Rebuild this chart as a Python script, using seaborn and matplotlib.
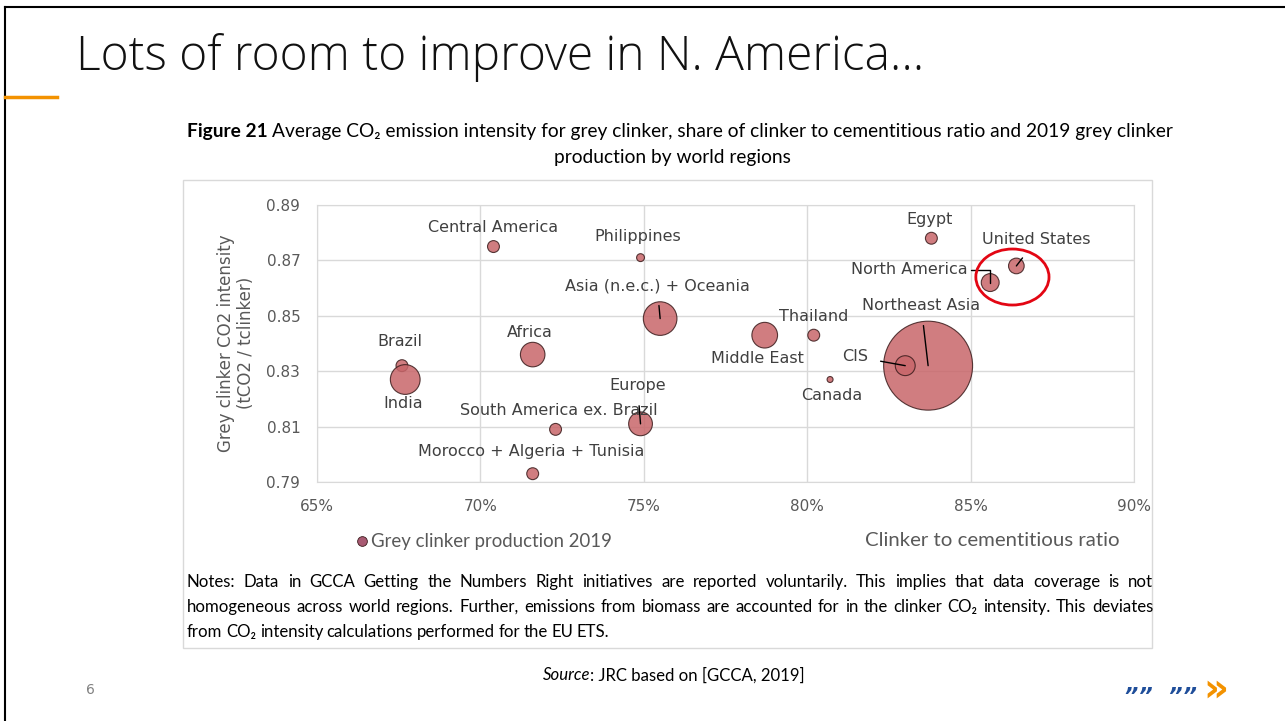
import pandas as pd
import seaborn as sns
import matplotlib.pyplot as plt
from matplotlib.patches import Ellipse, Rectangle
from matplotlib.lines import Line2D
from matplotlib.ticker import FuncFormatter

# data
regions = ["Central America", "Philippines", "Asia (n.e.c.) + Oceania", "Brazil", "India",
           "Africa", "South America ex. Brazil", "Morocco + Algeria + Tunisia", "Europe",
           "Middle East", "Thailand", "Canada", "Egypt", "North America", "United States",
           "Northeast Asia", "CIS"]
clinker_ratio = [70.4, 74.9, 75.5, 67.6, 67.7, 71.6, 72.3, 71.6, 74.9,
                 78.7, 80.2, 80.7, 83.8, 85.6, 86.4, 83.7, 83.0]
co2_intensity = [0.875, 0.871, 0.849, 0.832, 0.827, 0.836, 0.809, 0.793, 0.811,
                 0.843, 0.843, 0.827, 0.878, 0.862, 0.868, 0.832, 0.832]
production_2019 = [7.5, 3.3, 60, 7.5, 47, 32, 7.5, 7.5, 30,
                   35, 7.5, 1.9, 7.5, 17, 13, 420, 21]

# label offsets in pixels (dx, dy), leader line kind
label_pos = {
    "Central America": (0, 19, None), "Philippines": (-3, 21, None),
    "Asia (n.e.c.) + Oceania": (-3, 33, "line"), "Brazil": (-2, 24, None),
    "India": (-2, -24, None), "Africa": (-3, 22, None),
    "South America ex. Brazil": (3, 19, None), "Morocco + Algeria + Tunisia": (-2, 22, None),
    "Europe": (-3, 38, "line"), "Middle East": (-7, -23, None),
    "Thailand": (0, 19, None), "Canada": (2, -16, None), "Egypt": (-2, 19, None),
    "North America": (-81, 13, "angle"), "United States": (20, 26, "line"),
    "Northeast Asia": (-7, 60, "line"), "CIS": (-50, 9, "line"),
}

df = pd.DataFrame({"region": regions, "ratio": clinker_ratio,
                   "co2": co2_intensity, "prod": production_2019})

W, H = 1285, 721
fig = plt.figure(figsize=(W / 100, H / 100), dpi=100)
fig.patch.set_facecolor("white")
renderer = fig.canvas.get_renderer()


def fx(px):
    return px / W


def fy(py):
    return 1 - py / H


def width_px(t):
    return t.get_window_extent(renderer=renderer).width


def fit(t, target):
    # scale the font so the text spans the target width in pixels
    t.set_fontsize(t.get_fontsize() * target / width_px(t))
    return t


narrow = ["Lato", "DejaVu Sans"]
grey = "#595959"

# slide frame + orange accent
fig.add_artist(Line2D([fx(5), fx(5)], [fy(7), fy(725)], color="black", lw=1.5))
fig.add_artist(Line2D([fx(5), fx(1290)], [fy(7), fy(7)], color="black", lw=1.5))
fig.add_artist(Line2D([fx(5), fx(57)], [fy(97), fy(97)], color="#F39200", lw=2.5))

# chart box
fig.add_artist(Rectangle((fx(183), fy(648)), fx(1152) - fx(183), fy(180) - fy(648),
                         fill=False, edgecolor="#d9d9d9", lw=1))

ax = fig.add_axes([fx(317), fy(482), fx(1134) - fx(317), fy(205) - fy(482)])
sns.scatterplot(data=df, x="ratio", y="co2", size="prod", sizes=(0, 4100),
                size_norm=(0, max(production_2019)), legend=False, color="#C8666A",
                edgecolor="#3b1c1c", linewidth=0.8, alpha=0.85, ax=ax, zorder=3)

ax.set_xlim(65, 90)
ax.set_ylim(0.79, 0.89)
ax.set_xticks([65, 70, 75, 80, 85, 90])
ax.set_yticks([0.79, 0.81, 0.83, 0.85, 0.87, 0.89])
ax.xaxis.set_major_formatter(FuncFormatter(lambda v, p: f"{v:.0f}%"))
ax.yaxis.set_major_formatter(FuncFormatter(lambda v, p: f"{v:.2f}"))
ax.grid(True, color="#d9d9d9", lw=1)
ax.set_axisbelow(True)
for s in ax.spines.values():
    s.set_color("#d9d9d9")
ax.tick_params(length=0, labelsize=11, labelcolor=grey, pad=12)
ax.set_xlabel("")
ax.set_ylabel("")

for r, x, y in zip(regions, clinker_ratio, co2_intensity):
    dx, dy, kind = label_pos[r]
    kw = dict(xy=(x, y), xytext=(dx * 0.72, dy * 0.72), textcoords="offset points",
              ha="center", va="center", fontsize=11.5, color="#404040", zorder=5)
    if kind == "line":
        kw["arrowprops"] = dict(arrowstyle="-", color="black", lw=1, shrinkA=7, shrinkB=0)
    elif kind == "angle":
        kw["arrowprops"] = dict(arrowstyle="-", color="black", lw=1, shrinkA=0, shrinkB=0,
                                connectionstyle="angle,angleA=0,angleB=90,rad=0",
                                relpos=(1.03, 0.5))
    ax.annotate(r, **kw)

# red circle around North America / US
ax.add_patch(Ellipse((86.28, 0.8640), 73 / 163 * 5, 56 / 27.7 * 0.01,
                     fill=False, edgecolor="#E30613", lw=2, zorder=6, clip_on=False))

fig.text(fx(236), fy(343), "Grey clinker CO2 intensity\n(tCO2 / tclinker)", rotation=90,
         ha="center", va="center", fontsize=12, color=grey, linespacing=1.1)

# legend + axis title
fig.add_artist(Line2D([fx(362)], [fy(541)], marker="o", markersize=7, color="#A85A72",
                      markeredgecolor="#3b1c1c", markeredgewidth=0.6, lw=0))
fit(fig.text(fx(371), fy(541), "Grey clinker production 2019", ha="left", va="center",
             fontsize=13, color=grey, family=narrow), 240)
fit(fig.text(fx(1120), fy(540), "Clinker to cementitious ratio", ha="right", va="center",
             fontsize=13, color=grey, family=narrow), 255)

# slide title
fit(fig.text(fx(76), fy(57), "Lots of room to improve in N. America\u2026", ha="left",
             va="center", fontsize=33, color="#111111", family=["Open Sans", "DejaVu Sans"],
             fontweight="light"), 850)

# figure caption
t1 = fig.text(fx(187), fy(132), "Figure 21", ha="left", va="center", fontsize=12,
              fontweight="bold", family=narrow, color="black")
t2 = fig.text(0, fy(132),
              "Average CO₂ emission intensity for grey clinker, share of clinker to cementitious ratio and 2019 grey clinker",
              ha="left", va="center", fontsize=12, family=narrow, color="black")
fit(t2, 1158 - 187 - width_px(t1) - 4)
t1.set_fontsize(t2.get_fontsize())
t2.set_x(fx(187 + width_px(t1) + 4))
fig.text(fx(672), fy(157), "production by world regions", ha="center", va="center",
         fontsize=t2.get_fontsize(), family=narrow, color="black")

# justified notes
notes = [
    "Notes: Data in GCCA Getting the Numbers Right initiatives are reported voluntarily. This implies that data coverage is not",
    "homogeneous across world regions. Further, emissions from biomass are accounted for in the clinker CO₂ intensity. This deviates",
    "from CO₂ intensity calculations performed for the EU ETS.",
]
left, right = 187, 1153
probe = fig.text(0, 0, notes[1], fontsize=12, family=narrow)
note_fs = 12 * (right - left - 25) / width_px(probe)
probe.remove()
for i, line in enumerate(notes):
    y = fy(582 + 25 * i)
    words = line.split(" ")
    texts = [fig.text(0, y, w, ha="left", va="center", fontsize=note_fs, family=narrow,
                      color="black") for w in words]
    widths = [width_px(t) for t in texts]
    if i < len(notes) - 1:
        gap = (right - left - sum(widths)) / (len(words) - 1)
    else:
        gap = note_fs * 0.3
    x = left
    for t, w in zip(texts, widths):
        t.set_x(fx(x))
        x += w + gap

# source line
s1 = fig.text(fx(543), fy(675), "Source", ha="left", va="center", fontsize=note_fs,
              style="italic", family=narrow, color="black")
fig.text(fx(543 + width_px(s1)), fy(675), ": JRC based on [GCCA, 2019]", ha="left",
         va="center", fontsize=note_fs, family=narrow, color="black")

# page number and logo
fig.text(fx(90), fy(690), "6", ha="center", va="center", fontsize=10, color="#808080")
fig.text(fx(1160), fy(697), "\u201d\u201d  \u201d\u201d", ha="center", va="center", fontsize=16,
         color="#1F4E9A", fontweight="bold", style="italic")
fig.text(fx(1216), fy(690), "»", ha="center", va="center", fontsize=28,
         color="#F39200", fontweight="bold")

fig.savefig("out.png", dpi=100)
